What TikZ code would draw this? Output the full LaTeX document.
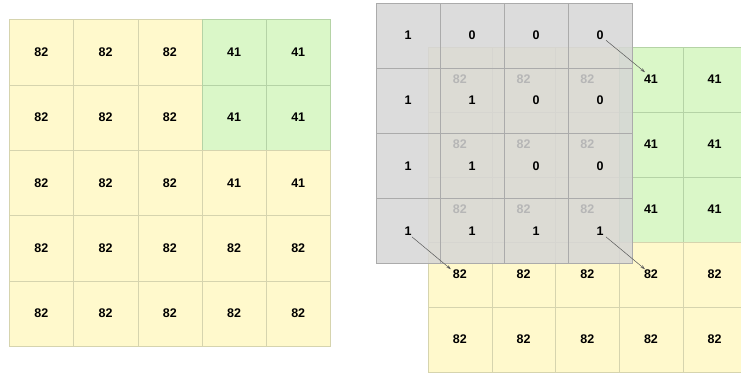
\documentclass[tikz,border=0pt]{standalone}
\usepackage{fontspec}
\setmainfont{Liberation Sans}
\usetikzlibrary{arrows.meta}

\definecolor{cellyellow}{HTML}{FFF9CC}
\definecolor{cellgreen}{HTML}{DAF7C8}
\definecolor{lineyellow}{HTML}{D6D4AE}
\definecolor{linegreen}{HTML}{B5D3A6}
\definecolor{cellgray}{HTML}{D6D6D6}
\definecolor{linegray}{HTML}{ABABAB}

\begin{document}
\begin{tikzpicture}[x=1pt, y=-1pt,
    cellfont/.style={font=\bfseries\fontsize{12.5}{14}\selectfont},
    yellowcell/.style={cellfont, draw=lineyellow, fill=cellyellow, inner sep=0pt},
    greencell/.style={cellfont, draw=linegreen, fill=cellgreen, inner sep=0pt},
    leftcell/.style={minimum width=64.2pt, minimum height=65.4pt},
    rightcell/.style={minimum width=63.7pt, minimum height=65pt},
    kernelcell/.style={cellfont, draw=linegray, fill=cellgray, fill opacity=0.85,
        text opacity=1, inner sep=0pt, minimum width=64pt, minimum height=65.2pt},
    link/.style={draw=black!65, line width=0.5pt, -{Stealth[length=4.5pt,width=3pt]}}]
    \clip (0,0) rectangle (741,372);

    % Draw the input grid on the left
    \foreach \r in {0,...,4}
        \foreach \c in {0,...,4} {
            \pgfmathtruncatemacro\val{(\r<3 && \c>2) ? 41 : 82}
            \pgfmathtruncatemacro\isgreen{(\r<2 && \c>2) ? 1 : 0}
            \ifnum\isgreen=1 \def\tone{greencell}\else \def\tone{yellowcell}\fi
            \node[\tone, leftcell] (a-\r-\c) at (41.4+64.2*\c, 52+65.4*\r) {\val};
        }

    % Draw the grid under the kernel on the right
    \foreach \r in {0,...,4}
        \foreach \c in {0,...,4} {
            \pgfmathtruncatemacro\val{(\r<3 && \c>2) ? 41 : 82}
            \ifnum\val=41 \def\tone{greencell}\else \def\tone{yellowcell}\fi
            \node[\tone, rightcell] (b-\r-\c) at (459.85+63.7*\c, 79.2+65*\r) {\val};
        }

    % Draw the kernel on top
    \foreach \r/\row in {0/{1,0,0,0}, 1/{1,1,0,0}, 2/{1,1,0,0}, 3/{1,1,1,1}}
        \foreach \v [count=\c from 0] in \row
            \node[kernelcell] (k-\r-\c) at (408+64*\c, 35.3+65.2*\r) {\v};

    % Arrows from the kernel corners
    \draw[link] ([shift={(6,5)}]k-0-3.center) -- ([shift={(-6,-7)}]b-0-3.center);
    \draw[link] ([shift={(4,6)}]k-3-0.center) -- ([shift={(-9,-5)}]b-3-0.center);
    \draw[link] ([shift={(6,6)}]k-3-3.center) -- ([shift={(-6,-5)}]b-3-3.center);

\end{tikzpicture}
\end{document}
